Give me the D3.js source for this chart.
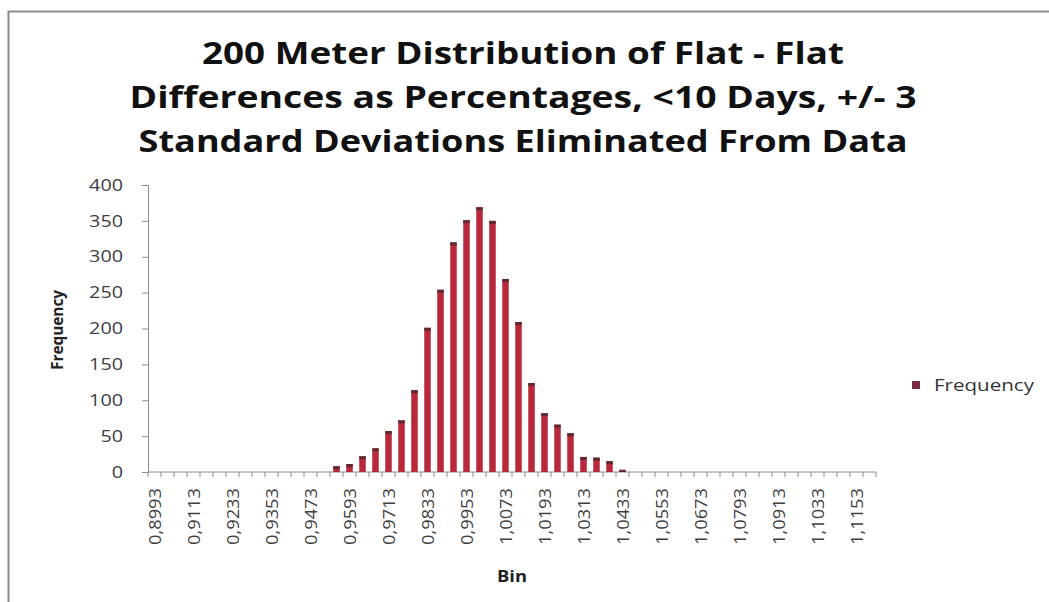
<!DOCTYPE html>
<html>
<head>
<meta charset="utf-8">
<script src="https://cdn.jsdelivr.net/npm/d3@7"></script>
<style>
  body { margin: 0; background: #fff; }
  svg { display: block; }
  text { font-variant-ligatures: none; }
</style>
</head>
<body>
<div class="container-hist"></div>
<script>
// bins (upper edges), every third one gets a label
const bins = [
  '0,8993', '0,9033', '0,9073', '0,9113', '0,9153', '0,9193', '0,9233', '0,9273',
  '0,9313', '0,9353', '0,9393', '0,9433', '0,9473', '0,9513', '0,9553', '0,9593',
  '0,9633', '0,9673', '0,9713', '0,9753', '0,9793', '0,9833', '0,9873', '0,9913',
  '0,9953', '0,9993', '1,0033', '1,0073', '1,0113', '1,0153', '1,0193', '1,0233',
  '1,0273', '1,0313', '1,0353', '1,0393', '1,0433', '1,0473', '1,0513', '1,0553',
  '1,0593', '1,0633', '1,0673', '1,0713', '1,0753', '1,0793', '1,0833', '1,0873',
  '1,0913', '1,0953', '1,0993', '1,1033', '1,1073', '1,1113', '1,1153', '1,1193'
];
const frequency = [
  0, 0, 0, 0, 0, 0, 0, 0,
  0, 0, 0, 0, 0, 0, 8, 11,
  22, 33, 57, 72, 114, 201, 254, 320,
  351, 369, 350, 269, 209, 124, 82, 66,
  54, 21, 20, 15, 3, 0, 0, 0,
  0, 0, 0, 0, 0, 0, 0, 0,
  0, 0, 0, 0, 0, 0, 0, 0
];
const yTicks = [0, 50, 100, 150, 200, 250, 300, 350, 400];
const titleLines = [
  '200 Meter Distribution of Flat - Flat',
  'Differences as Percentages, <10 Days, +/- 3',
  'Standard Deviations Eliminated From Data'
];

const width = 1049;
const height = 602;
const margin = { top: 185, right: 173, bottom: 130, left: 148 };
const font = '"Open Sans", Lato, sans-serif';

const svg = d3.select('.container-hist')
  .append('svg')
  .attr('width', width)
  .attr('height', height);

// chart frame
svg.append('rect')
  .attr('x', 8.5)
  .attr('y', 11.5)
  .attr('width', width + 20)
  .attr('height', height + 20)
  .attr('fill', '#fff')
  .attr('stroke', '#8c8c8c')
  .attr('stroke-width', 2);

// title
const titleWidths = [642, 787, 769];
svg.append('g')
  .selectAll('text')
  .data(titleLines)
  .enter()
  .append('text')
  .attr('x', 523)
  .attr('y', (d, i) => 64 + i * 44)
  .attr('text-anchor', 'middle')
  .attr('font-family', font)
  .attr('font-weight', 'bold')
  .attr('font-size', 31)
  .attr('fill', '#111')
  .attr('textLength', (d, i) => titleWidths[i])
  .attr('lengthAdjust', 'spacingAndGlyphs')
  .text(d => d);

const scaleX = d3.scaleBand()
  .domain(bins)
  .range([margin.left, width - margin.right])
  .paddingInner(0.5)
  .paddingOuter(0.25);

const scaleY = d3.scaleLinear()
  .domain([0, 400])
  .range([height - margin.bottom, margin.top]);

// y axis
const axisY = d3.axisLeft(scaleY)
  .tickValues(yTicks)
  .tickSize(6)
  .tickPadding(19);

const groupAxisY = svg.append('g')
  .attr('transform', `translate(${margin.left}, 0)`)
  .call(axisY);
groupAxisY.selectAll('text')
  .attr('font-family', font)
  .attr('font-size', 16)
  .attr('fill', '#404040')
  .attr('textLength', d => String(d).length * 11.3)
  .attr('lengthAdjust', 'spacingAndGlyphs');

// x axis, ticks between categories
const x0 = margin.left;
const stepX = scaleX.step();
const groupAxisX = svg.append('g')
  .attr('transform', `translate(0, ${scaleY(0)})`);

groupAxisX.selectAll('line.tick-x')
  .data(d3.range(bins.length + 1))
  .enter()
  .append('line')
  .attr('class', 'tick-x')
  .attr('x1', i => x0 + i * stepX)
  .attr('x2', i => x0 + i * stepX)
  .attr('y1', 0)
  .attr('y2', 5)
  .attr('stroke', '#8c8c8c');

groupAxisX.selectAll('text')
  .data(bins.filter((d, i) => i % 3 === 0))
  .enter()
  .append('text')
  .attr('transform', d => `translate(${scaleX(d) + scaleX.bandwidth() / 2 + 6}, 16) rotate(-90)`)
  .attr('text-anchor', 'end')
  .attr('font-family', font)
  .attr('font-size', 16)
  .attr('fill', '#404040')
  .attr('textLength', 57)
  .attr('lengthAdjust', 'spacingAndGlyphs')
  .text(d => d);

svg.selectAll('.domain, .tick line')
  .attr('stroke', '#8c8c8c');
groupAxisX.append('line')
  .attr('x1', margin.left)
  .attr('x2', width - margin.right)
  .attr('stroke', '#8c8c8c');

// bars
const data = bins.map((b, i) => ({ bin: b, value: frequency[i] }));
const groupBars = svg.append('g');
groupBars.selectAll('rect.bar')
  .data(data.filter(d => d.value > 0))
  .enter()
  .append('rect')
  .attr('class', 'bar')
  .attr('x', d => scaleX(d.bin))
  .attr('y', d => scaleY(d.value))
  .attr('width', scaleX.bandwidth())
  .attr('height', d => scaleY(0) - scaleY(d.value))
  .attr('fill', '#b8283a');

groupBars.selectAll('rect.cap')
  .data(data.filter(d => d.value > 0))
  .enter()
  .append('rect')
  .attr('class', 'cap')
  .attr('x', d => scaleX(d.bin))
  .attr('y', d => scaleY(d.value))
  .attr('width', scaleX.bandwidth())
  .attr('height', d => Math.min(3, scaleY(0) - scaleY(d.value)))
  .attr('fill', '#5e2a32');

// axis titles
svg.append('text')
  .attr('transform', 'translate(63, 330) rotate(-90)')
  .attr('text-anchor', 'middle')
  .attr('font-family', font)
  .attr('font-weight', 'bold')
  .attr('font-size', 16)
  .attr('fill', '#222')
  .attr('textLength', 80)
  .attr('lengthAdjust', 'spacingAndGlyphs')
  .text('Frequency');

svg.append('text')
  .attr('x', 512)
  .attr('y', 582)
  .attr('text-anchor', 'middle')
  .attr('font-family', font)
  .attr('font-weight', 'bold')
  .attr('font-size', 16)
  .attr('fill', '#222')
  .attr('textLength', 30)
  .attr('lengthAdjust', 'spacingAndGlyphs')
  .text('Bin');

// legend
const legend = svg.append('g')
  .attr('transform', 'translate(912, 381)');
legend.append('rect')
  .attr('width', 8)
  .attr('height', 8)
  .attr('fill', '#7a2a40');
legend.append('text')
  .attr('x', 22)
  .attr('y', 10)
  .attr('font-family', font)
  .attr('font-size', 16)
  .attr('fill', '#333')
  .attr('textLength', 100)
  .attr('lengthAdjust', 'spacingAndGlyphs')
  .text('Frequency');
</script>
</body>
</html>
